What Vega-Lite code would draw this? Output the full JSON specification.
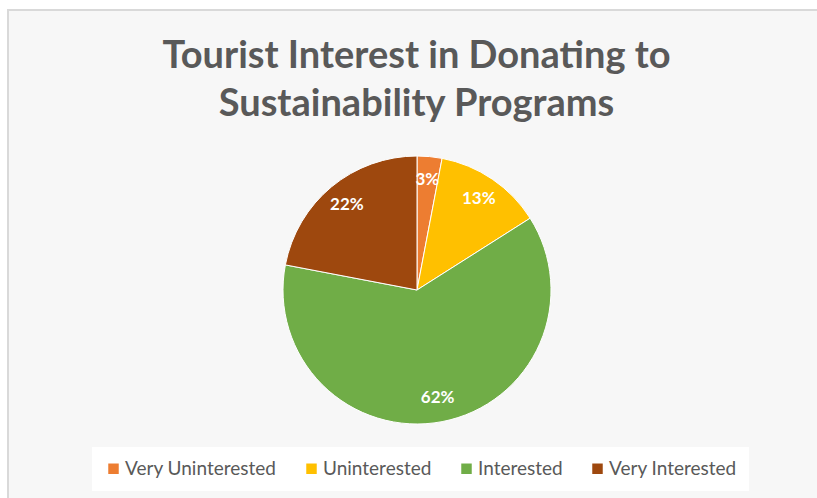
{
  "$schema": "https://vega.github.io/schema/vega-lite/v6.json",
  "width": 811,
  "height": 490,
  "autosize": {"type": "none"},
  "padding": {"left": 8, "top": 10, "right": -2, "bottom": -2},
  "background": "white",
  "view": {"stroke": "#d9d9d9", "strokeWidth": 2, "fill": "#f7f7f7"},
  "config": {
    "font": "Lato"
  },
  "title": {
    "text": ["Tourist Interest in Donating to", "Sustainability Programs"],
    "orient": "top",
    "anchor": "middle",
    "frame": "group",
    "offset": -114,
    "dx": 3,
    "font": "Lato",
    "fontSize": 38,
    "fontWeight": "bold",
    "color": "#595959",
    "lineHeight": 48
  },
  "data": {
    "values": [
      {"category": "Very Uninterested", "pct": 0.03, "idx": 1},
      {"category": "Uninterested", "pct": 0.13, "idx": 2},
      {"category": "Interested", "pct": 0.62, "idx": 3},
      {"category": "Very Interested", "pct": 0.22, "idx": 4}
    ]
  },
  "encoding": {
    "theta": {"field": "pct", "type": "quantitative", "stack": true},
    "order": {"field": "idx", "type": "quantitative"},
    "color": {
      "field": "category",
      "type": "nominal",
      "scale": {
        "domain": ["Very Uninterested", "Uninterested", "Interested", "Very Interested"],
        "range": ["#ED7D31", "#FFC000", "#70AD47", "#9E480E"]
      },
      "legend": {
        "title": null,
        "orient": "none",
        "direction": "horizontal",
        "legendX": 84,
        "legendY": 437,
        "fillColor": "white",
        "padding": 12,
        "symbolType": "square",
        "symbolSize": 110,
        "symbolStrokeWidth": 0,
        "labelFont": "Lato",
        "labelFontSize": 19,
        "labelColor": "#595959",
        "labelOffset": 2,
        "columnPadding": 25,
        "labelLimit": 300
      }
    }
  },
  "layer": [
    {
      "mark": {"type": "arc", "radius": 134, "stroke": "white", "strokeWidth": 1, "xOffset": 3.5, "yOffset": 35}
    },
    {
      "mark": {"type": "text", "radius": 110, "xOffset": 3.5, "yOffset": 35, "fill": "white", "fontSize": 17, "fontWeight": "bold", "font": "Lato"},
      "encoding": {
        "text": {"field": "pct", "type": "quantitative", "format": ".0%"},
        "color": {"value": "white"}
      }
    }
  ]
}
